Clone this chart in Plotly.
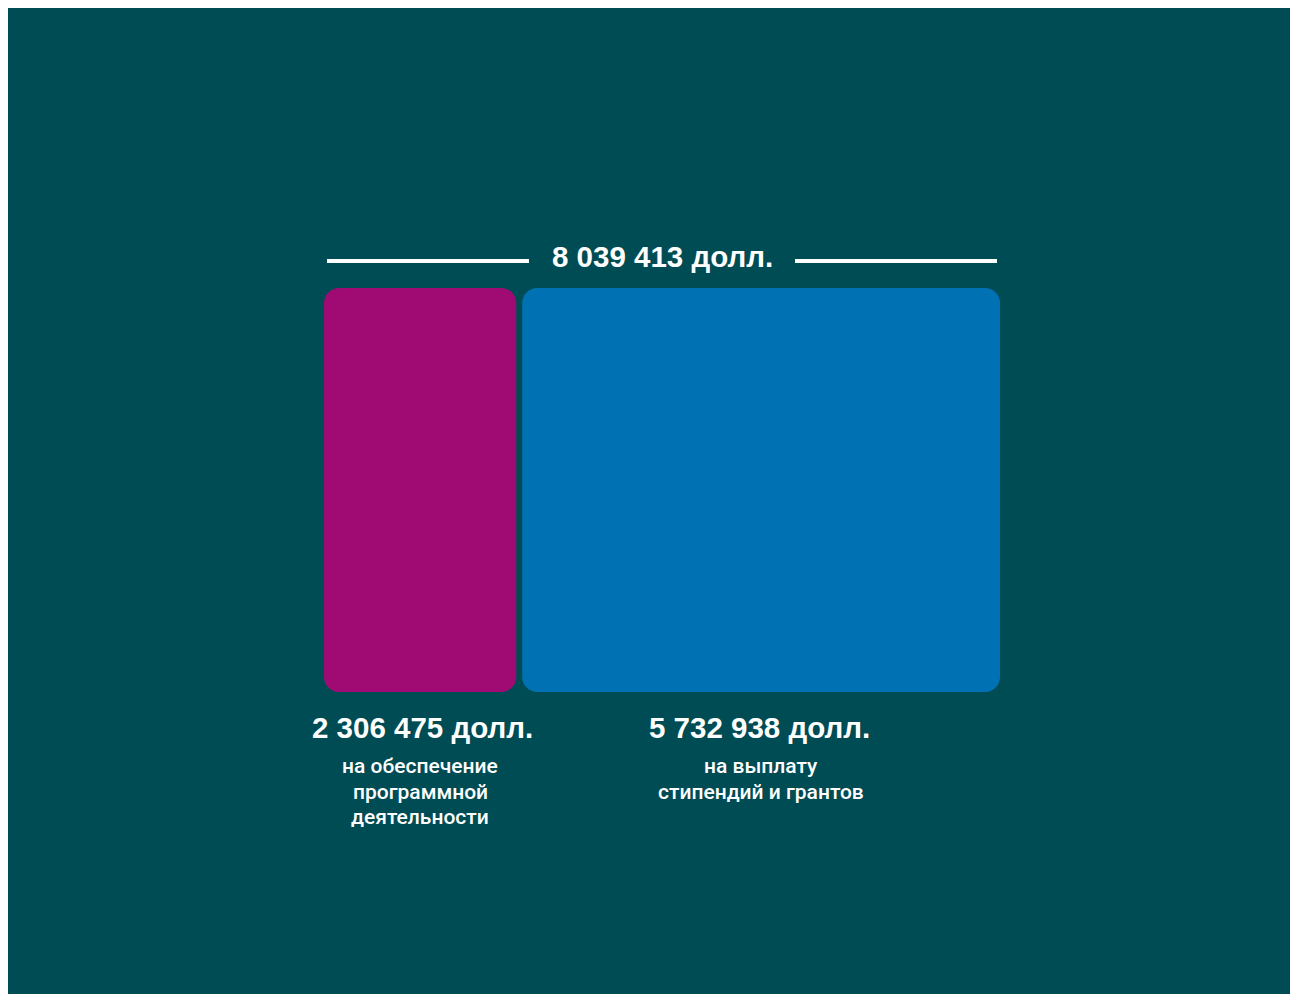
import plotly.graph_objects as go

# ---- data ----
categories = [["на обеспечение", "программной", "деятельности"], ["на выплату", "стипендий и грантов"]]
values = [2306475, 5732938]
total = 8039413
value_labels = ["2 306 475 долл.", "5 732 938 долл."]
total_label = "8 039 413 долл."
colors = ["#A00A73", "#0072B4"]

BG = "#004C54"
W, H = 1300, 990

# scale: px per dollar
bar_span_px = 670
s = bar_span_px / total
gap = 6 / s  # gap between the two blocks, in data units
left_px = 316
x0 = -left_px / s
x1 = x0 + W / s

# vertical: blocks occupy y in [-1, 1]; 202 px per unit
ppu = 202
ymax = 1 + 280 / ppu
ymin = ymax - H / ppu

def py(px_from_top):
    return ymax - px_from_top / ppu

starts = [0, values[0] + gap]
centers = [st + v / 2 for st, v in zip(starts, values)]
span_end = starts[1] + values[1]
label_shifts = [2, -2]

def rounded_rect(xl, xr, yb, yt, r_px):
    rx, ry = r_px / s, r_px / ppu
    k = 0.4477
    p = [
        f"M {xl + rx},{yt}",
        f"L {xr - rx},{yt}",
        f"C {xr - k * rx},{yt} {xr},{yt - k * ry} {xr},{yt - ry}",
        f"L {xr},{yb + ry}",
        f"C {xr},{yb + k * ry} {xr - k * rx},{yb} {xr - rx},{yb}",
        f"L {xl + rx},{yb}",
        f"C {xl + k * rx},{yb} {xl},{yb + k * ry} {xl},{yb + ry}",
        f"L {xl},{yt - ry}",
        f"C {xl},{yt - k * ry} {xl + k * rx},{yt} {xl + rx},{yt}",
        "Z",
    ]
    return " ".join(p)

fig = go.Figure()
fig.add_trace(go.Scatter(x=centers, y=[0, 0], mode="markers", marker=dict(opacity=0), hoverinfo="skip", showlegend=False))

for st, v, col in zip(starts, values, colors):
    fig.add_shape(type="path", path=rounded_rect(st, st + v, -1, 1, 15),
                  fillcolor=col, line=dict(width=0), layer="below")

mid = span_end / 2
half_gap = 133 / s
line_y = py(253)
fig.add_shape(type="line", x0=3 / s, x1=mid - half_gap, y0=line_y, y1=line_y, line=dict(color="white", width=4))
fig.add_shape(type="line", x0=mid + half_gap, x1=span_end - 3 / s, y0=line_y, y1=line_y, line=dict(color="white", width=4))

fig.add_annotation(x=mid, y=py(248), text=f"<b>{total_label}</b>", showarrow=False,
                   font=dict(family="Liberation Sans, Arial", size=29.5, color="white"), xanchor="center", yanchor="middle")

for c, vl, cat, sh in zip(centers, value_labels, categories, label_shifts):
    fig.add_annotation(x=c, y=py(719), text=f"<b>{vl}</b>", showarrow=False, xshift=sh,
                       font=dict(family="Liberation Sans, Arial", size=29.5, color="white"), xanchor="center", yanchor="middle")
    for i, line in enumerate(cat):
        fig.add_annotation(x=c, y=py(758 + i * 25.5), text=line, showarrow=False,
                           font=dict(family="Roboto", size=21, weight=500, color="white"),
                           xanchor="center", yanchor="middle")

fig.update_layout(
    width=W, height=H,
    margin=dict(l=0, r=0, t=0, b=0),
    paper_bgcolor=BG, plot_bgcolor=BG,
    xaxis=dict(range=[x0, x1], visible=False, fixedrange=True),
    yaxis=dict(range=[ymin, ymax], visible=False, fixedrange=True),
)

fig.write_html("out.html")
